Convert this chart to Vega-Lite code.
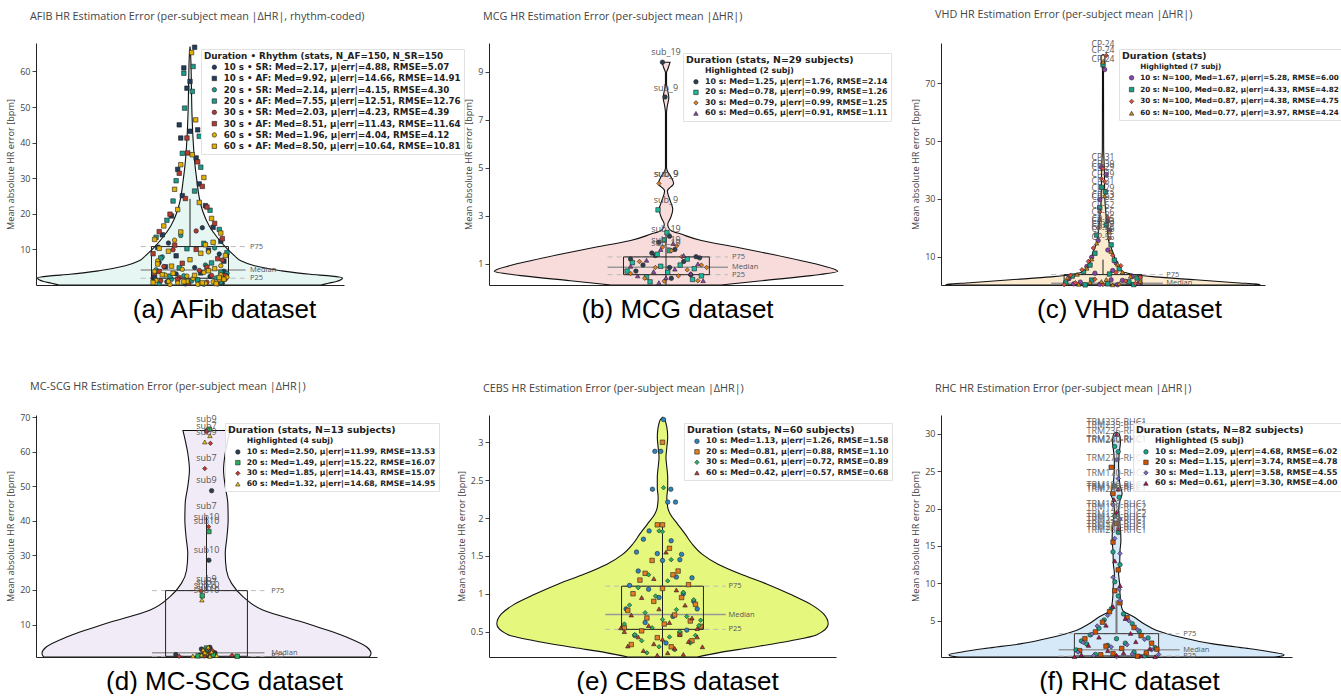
{
"$schema":"https://vega.github.io/schema/vega-lite/v6.json",
"padding":{"left":6,"top":8,"right":0,"bottom":0},
"columns":5,
"spacing":{"row":130,"column":5},
"bounds":"flush",
"resolve":{"scale":{"x":"independent","y":"independent","color":"independent","shape":"independent"}},
"config":{
 "view":{"stroke":null},
 "axis":{"grid":false,"domainColor":"#222","domainWidth":1,"tickColor":"#444","tickSize":4,"labelColor":"#444","labelFont":"Open Sans","labelFontSize":9,"labelPadding":2,"labelOverlap":false,"titleFont":"Open Sans","titleFontSize":9.2,"titleFontWeight":"normal","titleColor":"#444","titlePadding":4},
 "title":{"anchor":"start","frame":"group","dx":-6,"font":"Open Sans","fontSize":10.8,"fontWeight":"normal","color":"#444","offset":21},
 "legend":{"titleFont":"DejaVu Sans","titleFontSize":9.4,"titleFontWeight":"bold","titleColor":"#222","labelFont":"DejaVu Sans","labelFontSize":7.9,"labelFontWeight":"bold","labelColor":"#222","symbolSize":20,"symbolStrokeWidth":0.6,"symbolStrokeColor":"#222","rowPadding":1.5,"padding":3,"fillColor":"rgba(255,255,255,0.85)","strokeColor":"#e2e2e2","labelLimit":0,"titleLimit":0,"symbolOffset":6,"labelOffset":5,"titlePadding":2},
 "text":{"font":"Open Sans"}
},
"concat":[
{
 "width":308,"height":242,
 "title":{"text":"AFIB HR Estimation Error (per-subject mean |ΔHR|, rhythm-coded)"},
 "layer":[
  {"data":{"values":[{"y":0,"lo":-0.85,"hi":0.85},{"y":0.5,"lo":-0.9,"hi":0.9},{"y":1,"lo":-0.95,"hi":0.95},{"y":1.5,"lo":-0.98,"hi":0.98},{"y":2,"lo":-0.99,"hi":0.99},{"y":2.5,"lo":-0.92,"hi":0.92},{"y":3,"lo":-0.78,"hi":0.78},{"y":4,"lo":-0.59,"hi":0.59},{"y":5.4,"lo":-0.42,"hi":0.42},{"y":6.8,"lo":-0.33,"hi":0.33},{"y":8.2,"lo":-0.29,"hi":0.29},{"y":10,"lo":-0.245,"hi":0.245},{"y":13.2,"lo":-0.18,"hi":0.18},{"y":16.6,"lo":-0.125,"hi":0.125},{"y":20.8,"lo":-0.082,"hi":0.082},{"y":24.6,"lo":-0.06,"hi":0.06},{"y":29.2,"lo":-0.045,"hi":0.045},{"y":33.9,"lo":-0.032,"hi":0.032},{"y":39.5,"lo":-0.022,"hi":0.022},{"y":47.9,"lo":-0.013,"hi":0.013},{"y":56.3,"lo":-0.009,"hi":0.009},{"y":63.8,"lo":-0.005,"hi":0.005},{"y":67,"lo":0,"hi":0}]},
   "mark":{"type":"area","orient":"horizontal","interpolate":"monotone","fill":"#e6f6f3","stroke":"#111","strokeWidth":1.1,"clip":true},
   "encoding":{
    "y":{"field":"y","type":"quantitative","scale":{"domain":[0,68],"nice":false,"zero":false},"axis":{"title":"Mean absolute HR error [bpm]","values":[10,20,30,40,50,60]}},
    "x":{"field":"lo","type":"quantitative","stack":null,"scale":{"domain":[-1,1],"nice":false,"zero":false},"axis":{"title":"(a) AFib dataset","ticks":false,"labels":false,"titleFont":"Liberation Sans","titleFontSize":26,"titleFontWeight":"normal","titleColor":"#000","titleX":188,"titleY":32,"titleAlign":"center","titleBaseline":"alphabetic"}},
    "x2":{"field":"hi"}}},
  {"data":{"values":[{"x":-0.32,"x2":0.36,"y":10.8},{"x":-0.32,"x2":0.36,"y":1.9}]},"mark":{"type":"rule","stroke":"#bbb","strokeDash":[5,4],"strokeWidth":1},"encoding":{"y":{"field":"y","type":"quantitative"},"x":{"field":"x","type":"quantitative"},"x2":{"field":"x2"}}},
  {"data":{"values":[{"x":-0.32,"x2":0.36,"y":4.2}]},"mark":{"type":"rule","stroke":"#999","strokeWidth":1.5},"encoding":{"y":{"field":"y","type":"quantitative"},"x":{"field":"x","type":"quantitative"},"x2":{"field":"x2"}}},
  {"data":{"values":[{"x":-0.25,"x2":0.25,"y":1.9,"y2":10.8}]},"mark":{"type":"rect","fill":"transparent","stroke":"#222","strokeWidth":1},"encoding":{"x":{"field":"x","type":"quantitative"},"x2":{"field":"x2"},"y":{"field":"y","type":"quantitative"},"y2":{"field":"y2"}}},
  {"data":{"values":[{"x":0,"y":10.8,"y2":24.2},{"x":0,"y":0,"y2":1.9}]},"mark":{"type":"rule","stroke":"#222","strokeWidth":1},"encoding":{"x":{"field":"x","type":"quantitative"},"y":{"field":"y","type":"quantitative"},"y2":{"field":"y2"}}},
  {"data":{"values":[{"x":0.39,"y":10.8,"t":"P75"},{"x":0.39,"y":4.2,"t":"Median"},{"x":0.39,"y":1.9,"t":"P25"}]},"mark":{"type":"text","align":"left","baseline":"middle","fontSize":7.5,"fill":"#555"},"encoding":{"x":{"field":"x","type":"quantitative"},"y":{"field":"y","type":"quantitative"},"text":{"field":"t"}}},
  {"data":{"values":[
{"k":"s10","x":0.08,"y":16.1},{"k":"s10","x":-0.14,"y":11.8},{"k":"s10","x":0.19,"y":8.7},{"k":"s10","x":-0.2,"y":6.3},{"k":"s10","x":0.03,"y":4.9},{"k":"s10","x":0.22,"y":3.9},{"k":"s10","x":-0.09,"y":3.1},{"k":"s10","x":0.13,"y":2.4},{"k":"s10","x":-0.24,"y":1.9},{"k":"s10","x":0.05,"y":1.4},{"k":"s10","x":-0.15,"y":0.9},{"k":"s10","x":0.21,"y":0.5},{"k":"s10","x":-0.03,"y":0.3},
{"k":"a10","x":0.03,"y":66.8},{"k":"a10","x":-0.04,"y":61.0},{"k":"a10","x":0.0,"y":57.2},{"k":"a10","x":-0.02,"y":55.3},{"k":"a10","x":-0.07,"y":45.0},{"k":"a10","x":0.05,"y":43.6},{"k":"a10","x":0.0,"y":43.2},{"k":"a10","x":-0.06,"y":41.3},{"k":"a10","x":0.04,"y":35.7},{"k":"a10","x":-0.08,"y":32.5},{"k":"a10","x":0.06,"y":28.4},{"k":"a10","x":-0.05,"y":25.1},{"k":"a10","x":0.1,"y":22.3},{"k":"a10","x":-0.12,"y":19.4},{"k":"a10","x":0.15,"y":16.2},{"k":"a10","x":-0.18,"y":14.1},{"k":"a10","x":0.2,"y":12.3},{"k":"a10","x":-0.21,"y":10.6},{"k":"a10","x":0.12,"y":9.8},{"k":"a10","x":-0.09,"y":8.2},{"k":"a10","x":0.22,"y":6.7},{"k":"a10","x":-0.16,"y":5.1},{"k":"a10","x":0.07,"y":3.4},{"k":"a10","x":-0.23,"y":2.2},
{"k":"s20","x":-0.06,"y":13.9},{"k":"s20","x":0.16,"y":10.4},{"k":"s20","x":-0.18,"y":7.9},{"k":"s20","x":0.1,"y":5.6},{"k":"s20","x":-0.22,"y":4.3},{"k":"s20","x":0.24,"y":3.3},{"k":"s20","x":-0.04,"y":2.6},{"k":"s20","x":0.17,"y":2.0},{"k":"s20","x":-0.12,"y":1.6},{"k":"s20","x":0.01,"y":1.1},{"k":"s20","x":0.2,"y":0.7},{"k":"s20","x":-0.2,"y":0.4},{"k":"s20","x":0.09,"y":0.2},
{"k":"a20","x":0.02,"y":61.4},{"k":"a20","x":-0.04,"y":59.5},{"k":"a20","x":0.015,"y":54.4},{"k":"a20","x":-0.035,"y":49.7},{"k":"a20","x":0.06,"y":41.8},{"k":"a20","x":-0.05,"y":37.0},{"k":"a20","x":0.07,"y":33.1},{"k":"a20","x":-0.09,"y":29.3},{"k":"a20","x":0.03,"y":26.4},{"k":"a20","x":-0.11,"y":23.6},{"k":"a20","x":0.13,"y":21.0},{"k":"a20","x":-0.15,"y":18.2},{"k":"a20","x":0.19,"y":15.6},{"k":"a20","x":-0.22,"y":13.4},{"k":"a20","x":0.09,"y":11.7},{"k":"a20","x":-0.02,"y":10.2},{"k":"a20","x":0.24,"y":9.1},{"k":"a20","x":-0.19,"y":7.6},{"k":"a20","x":0.14,"y":6.2},{"k":"a20","x":-0.07,"y":4.8},{"k":"a20","x":0.2,"y":3.6},{"k":"a20","x":-0.13,"y":2.5},{"k":"a20","x":0.05,"y":1.4},
{"k":"s30","x":0.04,"y":15.2},{"k":"s30","x":-0.11,"y":9.9},{"k":"s30","x":0.21,"y":7.0},{"k":"s30","x":-0.17,"y":5.2},{"k":"s30","x":0.06,"y":4.1},{"k":"s30","x":-0.23,"y":3.2},{"k":"s30","x":0.14,"y":2.7},{"k":"s30","x":-0.07,"y":2.1},{"k":"s30","x":0.23,"y":1.7},{"k":"s30","x":-0.19,"y":1.2},{"k":"s30","x":0.11,"y":0.8},{"k":"s30","x":-0.01,"y":0.5},{"k":"s30","x":0.18,"y":0.3},
{"k":"a30","x":-0.02,"y":41.3},{"k":"a30","x":-0.015,"y":37.1},{"k":"a30","x":0.05,"y":34.6},{"k":"a30","x":-0.07,"y":31.4},{"k":"a30","x":0.08,"y":27.7},{"k":"a30","x":-0.03,"y":24.3},{"k":"a30","x":0.11,"y":21.9},{"k":"a30","x":-0.13,"y":19.9},{"k":"a30","x":0.16,"y":17.3},{"k":"a30","x":-0.2,"y":15.0},{"k":"a30","x":0.21,"y":13.0},{"k":"a30","x":-0.1,"y":11.2},{"k":"a30","x":0.04,"y":10.0},{"k":"a30","x":-0.24,"y":8.8},{"k":"a30","x":0.18,"y":7.4},{"k":"a30","x":-0.05,"y":6.1},{"k":"a30","x":0.11,"y":5.0},{"k":"a30","x":-0.2,"y":3.8},{"k":"a30","x":0.23,"y":2.6},{"k":"a30","x":-0.08,"y":1.5},
{"k":"s60","x":-0.1,"y":12.6},{"k":"s60","x":0.12,"y":9.3},{"k":"s60","x":-0.21,"y":6.8},{"k":"s60","x":0.2,"y":5.4},{"k":"s60","x":-0.05,"y":4.4},{"k":"s60","x":0.09,"y":3.5},{"k":"s60","x":-0.16,"y":2.8},{"k":"s60","x":0.24,"y":2.2},{"k":"s60","x":0.02,"y":1.8},{"k":"s60","x":-0.22,"y":1.3},{"k":"s60","x":0.15,"y":0.9},{"k":"s60","x":-0.08,"y":0.6},{"k":"s60","x":0.06,"y":0.3},{"k":"s60","x":-0.13,"y":0.15},{"k":"s60","x":0.19,"y":1.5},{"k":"s60","x":-0.02,"y":2.5},{"k":"s60","x":0.1,"y":0.5},{"k":"s60","x":-0.14,"y":1.0},{"k":"s60","x":0.2,"y":2.9},{"k":"s60","x":-0.23,"y":3.8},{"k":"s60","x":0.05,"y":0.2},
{"k":"a60","x":0.01,"y":65.3},{"k":"a60","x":0.037,"y":46.4},{"k":"a60","x":0.015,"y":36.6},{"k":"a60","x":-0.06,"y":33.8},{"k":"a60","x":0.09,"y":30.2},{"k":"a60","x":-0.1,"y":26.9},{"k":"a60","x":0.06,"y":23.2},{"k":"a60","x":-0.08,"y":21.2},{"k":"a60","x":0.14,"y":18.7},{"k":"a60","x":-0.17,"y":16.6},{"k":"a60","x":0.2,"y":14.6},{"k":"a60","x":-0.23,"y":12.8},{"k":"a60","x":0.1,"y":11.3},{"k":"a60","x":-0.14,"y":9.5},{"k":"a60","x":0.23,"y":8.3},{"k":"a60","x":0.0,"y":7.1},{"k":"a60","x":-0.21,"y":5.9},{"k":"a60","x":0.16,"y":4.6},{"k":"a60","x":-0.11,"y":3.3},{"k":"a60","x":0.19,"y":2.1},{"k":"a60","x":-0.02,"y":1.0},{"k":"a60","x":0.08,"y":0.6},{"k":"a60","x":0.12,"y":4.0},{"k":"a60","x":-0.18,"y":2.9},{"k":"a60","x":0.22,"y":1.6},{"k":"a60","x":-0.04,"y":0.9},{"k":"a60","x":0.17,"y":0.4},{"k":"a60","x":-0.24,"y":0.7},{"k":"a60","x":0.03,"y":2.7},{"k":"a60","x":-0.12,"y":5.3},{"k":"a60","x":0.07,"y":8.9},{"k":"a60","x":-0.2,"y":10.3},{"k":"a60","x":0.15,"y":12.0},{"k":"a60","x":-0.06,"y":14.9}
  ]},
   "mark":{"type":"point","filled":true,"size":20,"stroke":"#222","strokeWidth":0.6,"opacity":1},
   "encoding":{"x":{"field":"x","type":"quantitative"},"y":{"field":"y","type":"quantitative"},
    "color":{"field":"k","type":"nominal","scale":{"domain":["s10","a10","s20","a20","s30","a30","s60","a60"],"range":["#1f3d5c","#1f3d5c","#1a9c8c","#1a9c8c","#b83a2e","#b83a2e","#e3b000","#e3b000"]},"legend":{"title":"Duration • Rhythm (stats, N_AF=150, N_SR=150","orient":"none","legendX":165,"legendY":6,"titleFontSize":8.8,"labelFontSize":8.7,"rowPadding":1.3,"labelExpr":"{s10:'10 s • SR: Med=2.17, μ|err|=4.88, RMSE=5.07',a10:'10 s • AF: Med=9.92, μ|err|=14.66, RMSE=14.91',s20:'20 s • SR: Med=2.14, μ|err|=4.15, RMSE=4.30',a20:'20 s • AF: Med=7.55, μ|err|=12.51, RMSE=12.76',s30:'30 s • SR: Med=2.03, μ|err|=4.23, RMSE=4.39',a30:'30 s • AF: Med=8.51, μ|err|=11.43, RMSE=11.64',s60:'60 s • SR: Med=1.96, μ|err|=4.04, RMSE=4.12',a60:'60 s • AF: Med=8.50, μ|err|=10.64, RMSE=10.81'}[datum.label]"}},
    "shape":{"field":"k","type":"nominal","scale":{"domain":["s10","a10","s20","a20","s30","a30","s60","a60"],"range":["circle","square","circle","square","circle","square","circle","square"]},"legend":{"title":"Duration • Rhythm (stats, N_AF=150, N_SR=150","orient":"none","legendX":165,"legendY":6,"titleFontSize":8.8,"labelFontSize":8.7,"rowPadding":1.3,"labelExpr":"{s10:'10 s • SR: Med=2.17, μ|err|=4.88, RMSE=5.07',a10:'10 s • AF: Med=9.92, μ|err|=14.66, RMSE=14.91',s20:'20 s • SR: Med=2.14, μ|err|=4.15, RMSE=4.30',a20:'20 s • AF: Med=7.55, μ|err|=12.51, RMSE=12.76',s30:'30 s • SR: Med=2.03, μ|err|=4.23, RMSE=4.39',a30:'30 s • AF: Med=8.51, μ|err|=11.43, RMSE=11.64',s60:'60 s • SR: Med=1.96, μ|err|=4.04, RMSE=4.12',a60:'60 s • AF: Med=8.50, μ|err|=10.64, RMSE=10.81'}[datum.label]"}}}}
 ]
},
{"width":102,"height":242,"data":{"values":[{"v":0}]},"mark":{"type":"point","opacity":0},"encoding":{}},
{
 "width":354,"height":242,
 "title":{"text":"MCG HR Estimation Error (per-subject mean |ΔHR|)"},
 "layer":[
  {"data":{"values":[{"y":0.12,"lo":-0.31,"hi":0.31},{"y":0.3,"lo":-0.54,"hi":0.54},{"y":0.51,"lo":-0.82,"hi":0.82},{"y":0.69,"lo":-0.97,"hi":0.97},{"y":0.93,"lo":-0.88,"hi":0.88},{"y":1.14,"lo":-0.76,"hi":0.76},{"y":1.41,"lo":-0.59,"hi":0.59},{"y":1.69,"lo":-0.4,"hi":0.4},{"y":1.97,"lo":-0.2,"hi":0.2},{"y":2.24,"lo":-0.085,"hi":0.085},{"y":2.38,"lo":-0.03,"hi":0.03},{"y":2.55,"lo":-0.012,"hi":0.012},{"y":2.66,"lo":-0.01,"hi":0.01},{"y":2.9,"lo":-0.025,"hi":0.025},{"y":3.28,"lo":-0.038,"hi":0.038},{"y":3.6,"lo":-0.025,"hi":0.025},{"y":4.04,"lo":-0.008,"hi":0.008},{"y":4.35,"lo":-0.043,"hi":0.043},{"y":4.6,"lo":-0.03,"hi":0.03},{"y":4.9,"lo":-0.006,"hi":0.006},{"y":5.0,"lo":-0.003,"hi":0.003},{"y":7.3,"lo":-0.003,"hi":0.003},{"y":7.6,"lo":-0.008,"hi":0.008},{"y":7.92,"lo":-0.016,"hi":0.016},{"y":8.2,"lo":-0.01,"hi":0.01},{"y":8.5,"lo":-0.003,"hi":0.003},{"y":8.96,"lo":-0.003,"hi":0.003},{"y":9.15,"lo":-0.012,"hi":0.012},{"y":9.4,"lo":-0.023,"hi":0.023}]},
   "mark":{"type":"area","orient":"horizontal","interpolate":"monotone","fill":"#f8dcdb","stroke":"#111","strokeWidth":1.1,"clip":true},
   "encoding":{
    "y":{"field":"y","type":"quantitative","scale":{"domain":[0.12,10.2],"nice":false,"zero":false},"axis":{"title":"Mean absolute HR error [bpm]","values":[1,2,3,4,5,6,7,8,9,10]}},
    "x":{"field":"lo","type":"quantitative","stack":null,"scale":{"domain":[-1,1],"nice":false,"zero":false},"axis":{"title":"(b) MCG dataset","ticks":false,"labels":false,"titleFont":"Liberation Sans","titleFontSize":26,"titleFontWeight":"normal","titleColor":"#000","titleX":188,"titleY":32,"titleAlign":"center","titleBaseline":"alphabetic"}},
    "x2":{"field":"hi"}}},
  {"data":{"values":[{"x":-0.33,"x2":0.35,"y":1.29},{"x":-0.33,"x2":0.35,"y":0.55}]},"mark":{"type":"rule","stroke":"#bbb","strokeDash":[5,4],"strokeWidth":1},"encoding":{"y":{"field":"y","type":"quantitative"},"x":{"field":"x","type":"quantitative"},"x2":{"field":"x2"}}},
  {"data":{"values":[{"x":-0.33,"x2":0.35,"y":0.86}]},"mark":{"type":"rule","stroke":"#999","strokeWidth":1.5},"encoding":{"y":{"field":"y","type":"quantitative"},"x":{"field":"x","type":"quantitative"},"x2":{"field":"x2"}}},
  {"data":{"values":[{"x":-0.24,"x2":0.245,"y":0.55,"y2":1.29}]},"mark":{"type":"rect","fill":"transparent","stroke":"#222","strokeWidth":1},"encoding":{"x":{"field":"x","type":"quantitative"},"x2":{"field":"x2"},"y":{"field":"y","type":"quantitative"},"y2":{"field":"y2"}}},
  {"data":{"values":[{"x":0,"y":0.12,"y2":2.4}]},"mark":{"type":"rule","stroke":"#222","strokeWidth":1},"encoding":{"x":{"field":"x","type":"quantitative"},"y":{"field":"y","type":"quantitative"},"y2":{"field":"y2"}}},
  {"data":{"values":[{"x":0.373,"y":1.29,"t":"P75"},{"x":0.373,"y":0.86,"t":"Median"},{"x":0.373,"y":0.55,"t":"P25"}]},"mark":{"type":"text","align":"left","baseline":"middle","fontSize":7.5,"fill":"#555"},"encoding":{"x":{"field":"x","type":"quantitative"},"y":{"field":"y","type":"quantitative"},"text":{"field":"t"}}},
  {"data":{"values":[
{"k":"d10","x":-0.02,"y":9.4},{"k":"d10","x":-0.005,"y":7.95},{"k":"d10","x":0.02,"y":2.15},{"k":"d10","x":-0.04,"y":1.9},{"k":"d10","x":0.05,"y":1.6},{"k":"d10","x":-0.08,"y":1.45},{"k":"d10","x":0.17,"y":1.3},{"k":"d10","x":-0.2,"y":1.2},{"k":"d10","x":0.1,"y":1.1},{"k":"d10","x":-0.13,"y":0.95},{"k":"d10","x":0.02,"y":0.85},{"k":"d10","x":-0.17,"y":0.7},{"k":"d10","x":0.14,"y":0.55},{"k":"d10","x":0.03,"y":0.4},{"k":"d10","x":0.19,"y":1.25},{"k":"d10","x":-0.06,"y":1.35},
{"k":"d20","x":-0.045,"y":3.25},{"k":"d20","x":0.005,"y":2.3},{"k":"d20","x":-0.01,"y":2.0},{"k":"d20","x":0.02,"y":1.55},{"k":"d20","x":-0.05,"y":1.4},{"k":"d20","x":0.12,"y":1.2},{"k":"d20","x":-0.19,"y":1.05},{"k":"d20","x":0.08,"y":0.95},{"k":"d20","x":-0.03,"y":0.9},{"k":"d20","x":0.16,"y":0.8},{"k":"d20","x":-0.22,"y":0.7},{"k":"d20","x":0.01,"y":0.65},{"k":"d20","x":0.2,"y":0.5},{"k":"d20","x":-0.11,"y":0.45},{"k":"d20","x":0.15,"y":0.35},{"k":"d20","x":-0.09,"y":0.25},
{"k":"d30","x":-0.04,"y":4.35},{"k":"d30","x":0.06,"y":1.75},{"k":"d30","x":-0.02,"y":1.7},{"k":"d30","x":0.03,"y":1.55},{"k":"d30","x":0.09,"y":1.3},{"k":"d30","x":-0.15,"y":1.1},{"k":"d30","x":0.2,"y":0.95},{"k":"d30","x":-0.06,"y":0.85},{"k":"d30","x":0.12,"y":0.75},{"k":"d30","x":-0.2,"y":0.6},{"k":"d30","x":0.07,"y":0.5},{"k":"d30","x":-0.12,"y":0.4},{"k":"d30","x":0.18,"y":0.3},{"k":"d30","x":-0.01,"y":0.28},{"k":"d30","x":0.23,"y":0.85},
{"k":"d60","x":0.04,"y":1.85},{"k":"d60","x":-0.03,"y":1.6},{"k":"d60","x":0.1,"y":1.35},{"k":"d60","x":-0.11,"y":1.15},{"k":"d60","x":0.18,"y":1.0},{"k":"d60","x":-0.2,"y":0.9},{"k":"d60","x":0.05,"y":0.78},{"k":"d60","x":-0.07,"y":0.68},{"k":"d60","x":0.14,"y":0.6},{"k":"d60","x":-0.16,"y":0.5},{"k":"d60","x":0.0,"y":0.42},{"k":"d60","x":0.21,"y":0.3},{"k":"d60","x":-0.04,"y":0.22}
  ]},
   "mark":{"type":"point","filled":true,"size":20,"stroke":"#222","strokeWidth":0.6,"opacity":1},
   "encoding":{"x":{"field":"x","type":"quantitative"},"y":{"field":"y","type":"quantitative"},
    "color":{"field":"k","type":"nominal","scale":{"domain":["hl","d10","d20","d30","d60"],"range":["#ffffff","#2d3e50","#1abc9c","#e67e22","#8e44ad"]},"legend":{"title":"Duration (stats, N=29 subjects)","orient":"none","legendX":194,"legendY":10,"labelExpr":"{hl:'Highlighted (2 subj)',d10:'10 s: Med=1.25, μ|err|=1.76, RMSE=2.14',d20:'20 s: Med=0.78, μ|err|=0.99, RMSE=1.26',d30:'30 s: Med=0.79, μ|err|=0.99, RMSE=1.25',d60:'60 s: Med=0.65, μ|err|=0.91, RMSE=1.11'}[datum.label]"}},
    "shape":{"field":"k","type":"nominal","scale":{"domain":["hl","d10","d20","d30","d60"],"range":["M0,0","circle","square","diamond","triangle-up"]},"legend":{"title":"Duration (stats, N=29 subjects)","orient":"none","legendX":194,"legendY":10,"labelExpr":"{hl:'Highlighted (2 subj)',d10:'10 s: Med=1.25, μ|err|=1.76, RMSE=2.14',d20:'20 s: Med=0.78, μ|err|=0.99, RMSE=1.26',d30:'30 s: Med=0.79, μ|err|=0.99, RMSE=1.25',d60:'60 s: Med=0.65, μ|err|=0.91, RMSE=1.11'}[datum.label]"}}}},
  {"data":{"values":[{"x":0,"y":9.83,"t":"sub_19"},{"x":0,"y":8.34,"t":"sub_9"},{"x":0,"y":4.76,"t":"sub_9"},{"x":0.003,"y":4.74,"t":"sub_9"},{"x":0,"y":3.68,"t":"sub_9"},{"x":0,"y":2.45,"t":"sub_19"},{"x":0,"y":1.99,"t":"sub_19"},{"x":0,"y":1.86,"t":"sub_19"}]},"mark":{"type":"text","align":"center","baseline":"middle","fontSize":9,"fill":"#555"},"encoding":{"x":{"field":"x","type":"quantitative"},"y":{"field":"y","type":"quantitative"},"text":{"field":"t"}}}
 ]
},
{"width":88,"height":242,"data":{"values":[{"v":0}]},"mark":{"type":"point","opacity":0},"encoding":{}},
{
 "width":324,"height":242,
 "title":{"text":"VHD HR Estimation Error (per-subject mean |ΔHR|)"},
 "layer":[
  {"data":{"values":[{"y":0.2,"lo":-0.95,"hi":0.95},{"y":0.4,"lo":-0.97,"hi":0.97},{"y":1.0,"lo":-0.82,"hi":0.82},{"y":2.0,"lo":-0.57,"hi":0.57},{"y":3.0,"lo":-0.32,"hi":0.32},{"y":3.6,"lo":-0.22,"hi":0.22},{"y":4.2,"lo":-0.16,"hi":0.16},{"y":5.2,"lo":-0.11,"hi":0.11},{"y":7.5,"lo":-0.085,"hi":0.085},{"y":10.9,"lo":-0.065,"hi":0.065},{"y":13.2,"lo":-0.05,"hi":0.05},{"y":15.5,"lo":-0.035,"hi":0.035},{"y":17.8,"lo":-0.03,"hi":0.03},{"y":23.6,"lo":-0.02,"hi":0.02},{"y":29.4,"lo":-0.012,"hi":0.012},{"y":40.9,"lo":-0.008,"hi":0.008},{"y":47.8,"lo":-0.004,"hi":0.004},{"y":74.5,"lo":-0.003,"hi":0.003},{"y":75.4,"lo":-0.004,"hi":0.004},{"y":76.6,"lo":-0.008,"hi":0.008},{"y":78.5,"lo":-0.012,"hi":0.012},{"y":79.4,"lo":-0.012,"hi":0.012},{"y":80,"lo":0,"hi":0}]},
   "mark":{"type":"area","orient":"horizontal","interpolate":"monotone","fill":"#fdebd0","stroke":"#111","strokeWidth":1.1,"clip":true},
   "encoding":{
    "y":{"field":"y","type":"quantitative","scale":{"domain":[0.2,84],"nice":false,"zero":false},"axis":{"title":"Mean absolute HR error [bpm]","values":[10,20,30,40,50,60,70,80]}},
    "x":{"field":"lo","type":"quantitative","stack":null,"scale":{"domain":[-1,1],"nice":false,"zero":false},"axis":{"title":"(c) VHD dataset","ticks":false,"labels":false,"titleFont":"Liberation Sans","titleFontSize":26,"titleFontWeight":"normal","titleColor":"#000","titleX":188,"titleY":32,"titleAlign":"center","titleBaseline":"alphabetic"}},
    "x2":{"field":"hi"}}},
  {"data":{"values":[{"x":-0.32,"x2":0.37,"y":3.8}]},"mark":{"type":"rule","stroke":"#bbb","strokeDash":[5,4],"strokeWidth":1},"encoding":{"y":{"field":"y","type":"quantitative"},"x":{"field":"x","type":"quantitative"},"x2":{"field":"x2"}}},
  {"data":{"values":[{"x":-0.32,"x2":0.37,"y":0.8}]},"mark":{"type":"rule","stroke":"#999","strokeWidth":1.5},"encoding":{"y":{"field":"y","type":"quantitative"},"x":{"field":"x","type":"quantitative"},"x2":{"field":"x2"}}},
  {"data":{"values":[{"x":-0.24,"x2":0.24,"y":0.2,"y2":3.8}]},"mark":{"type":"rect","fill":"transparent","stroke":"#222","strokeWidth":1},"encoding":{"x":{"field":"x","type":"quantitative"},"x2":{"field":"x2"},"y":{"field":"y","type":"quantitative"},"y2":{"field":"y2"}}},
  {"data":{"values":[{"x":0,"y":3.8,"y2":9.0}]},"mark":{"type":"rule","stroke":"#222","strokeWidth":1},"encoding":{"x":{"field":"x","type":"quantitative"},"y":{"field":"y","type":"quantitative"},"y2":{"field":"y2"}}},
  {"data":{"values":[{"x":0.39,"y":3.8,"t":"P75"},{"x":0.39,"y":0.8,"t":"Median"}]},"mark":{"type":"text","align":"left","baseline":"middle","fontSize":7.5,"fill":"#555"},"encoding":{"x":{"field":"x","type":"quantitative"},"y":{"field":"y","type":"quantitative"},"text":{"field":"t"}}},
  {"data":{"values":[
{"k":"d10","x":0.01,"y":74.8},{"k":"d10","x":-0.01,"y":41},{"k":"d10","x":0.02,"y":38.5},{"k":"d10","x":-0.02,"y":29.8},{"k":"d10","x":0.03,"y":22.4},{"k":"d10","x":0.04,"y":19.2},{"k":"d10","x":-0.03,"y":15.6},{"k":"d10","x":0.03,"y":12.3},{"k":"d10","x":-0.07,"y":9.8},{"k":"d10","x":0.08,"y":7.9},{"k":"d10","x":-0.1,"y":6.6},{"k":"d10","x":0.06,"y":5.2},{"k":"d10","x":-0.05,"y":4.3},{"k":"d10","x":0.18,"y":3.1},{"k":"d10","x":-0.21,"y":2.4},{"k":"d10","x":0.12,"y":1.8},{"k":"d10","x":-0.14,"y":1.2},{"k":"d10","x":0.22,"y":0.8},{"k":"d10","x":-0.02,"y":0.5},{"k":"d10","x":0.09,"y":0.3},{"k":"d10","x":-0.18,"y":0.6},{"k":"d10","x":0.05,"y":2.0},
{"k":"d20","x":0.0,"y":76.5},{"k":"d20","x":-0.01,"y":34.0},{"k":"d20","x":0.015,"y":32.5},{"k":"d20","x":-0.02,"y":27.0},{"k":"d20","x":0.02,"y":21.0},{"k":"d20","x":-0.04,"y":17.5},{"k":"d20","x":0.05,"y":14.1},{"k":"d20","x":-0.05,"y":11.2},{"k":"d20","x":0.07,"y":8.8},{"k":"d20","x":-0.08,"y":7.1},{"k":"d20","x":0.1,"y":5.8},{"k":"d20","x":-0.12,"y":4.9},{"k":"d20","x":0.04,"y":4.0},{"k":"d20","x":-0.19,"y":3.3},{"k":"d20","x":0.21,"y":2.6},{"k":"d20","x":-0.07,"y":1.9},{"k":"d20","x":0.16,"y":1.3},{"k":"d20","x":-0.23,"y":0.9},{"k":"d20","x":0.03,"y":0.6},{"k":"d20","x":0.19,"y":0.35},{"k":"d20","x":-0.11,"y":0.25},
{"k":"d30","x":0.02,"y":79.7},{"k":"d30","x":0.0,"y":40.5},{"k":"d30","x":-0.01,"y":37.0},{"k":"d30","x":0.01,"y":36.0},{"k":"d30","x":-0.02,"y":25.5},{"k":"d30","x":0.03,"y":23.5},{"k":"d30","x":-0.03,"y":20.0},{"k":"d30","x":0.04,"y":16.4},{"k":"d30","x":-0.06,"y":13.0},{"k":"d30","x":0.06,"y":10.5},{"k":"d30","x":-0.09,"y":8.4},{"k":"d30","x":0.11,"y":6.9},{"k":"d30","x":-0.13,"y":5.5},{"k":"d30","x":0.08,"y":4.5},{"k":"d30","x":-0.2,"y":3.6},{"k":"d30","x":0.23,"y":2.9},{"k":"d30","x":-0.05,"y":2.2},{"k":"d30","x":0.14,"y":1.6},{"k":"d30","x":-0.17,"y":1.0},{"k":"d30","x":0.2,"y":0.7},{"k":"d30","x":0.0,"y":0.4},{"k":"d30","x":-0.24,"y":0.3},
{"k":"d60","x":0.0,"y":77.4},{"k":"d60","x":0.01,"y":31.0},{"k":"d60","x":-0.02,"y":22.8},{"k":"d60","x":0.04,"y":18.5},{"k":"d60","x":-0.04,"y":14.7},{"k":"d60","x":0.05,"y":11.8},{"k":"d60","x":-0.07,"y":9.2},{"k":"d60","x":0.09,"y":7.4},{"k":"d60","x":-0.1,"y":6.0},{"k":"d60","x":0.12,"y":4.7},{"k":"d60","x":-0.16,"y":3.9},{"k":"d60","x":0.17,"y":3.2},{"k":"d60","x":-0.22,"y":2.7},{"k":"d60","x":0.02,"y":2.1},{"k":"d60","x":0.23,"y":1.5},{"k":"d60","x":-0.08,"y":1.1},{"k":"d60","x":0.1,"y":0.7},{"k":"d60","x":-0.15,"y":0.45},{"k":"d60","x":0.06,"y":0.25},{"k":"d60","x":-0.01,"y":1.4}
  ]},
   "mark":{"type":"point","filled":true,"size":20,"stroke":"#222","strokeWidth":0.6,"opacity":1},
   "encoding":{"x":{"field":"x","type":"quantitative"},"y":{"field":"y","type":"quantitative"},
    "color":{"field":"k","type":"nominal","scale":{"domain":["hl","d10","d20","d30","d60"],"range":["#ffffff","#8e44ad","#16a085","#e74c3c","#d68910"]},"legend":{"title":"Duration (stats)","orient":"none","legendX":178,"legendY":6,"labelFontSize":7.2,"rowPadding":2.8,"labelExpr":"{hl:'Highlighted (7 subj)',d10:'10 s: N=100, Med=1.67, μ|err|=5.28, RMSE=6.00',d20:'20 s: N=100, Med=0.82, μ|err|=4.33, RMSE=4.82',d30:'30 s: N=100, Med=0.87, μ|err|=4.38, RMSE=4.75',d60:'60 s: N=100, Med=0.77, μ|err|=3.97, RMSE=4.24'}[datum.label]"}},
    "shape":{"field":"k","type":"nominal","scale":{"domain":["hl","d10","d20","d30","d60"],"range":["M0,0","circle","square","diamond","triangle-up"]},"legend":{"title":"Duration (stats)","orient":"none","legendX":178,"legendY":6,"labelFontSize":7.2,"rowPadding":2.8,"labelExpr":"{hl:'Highlighted (7 subj)',d10:'10 s: N=100, Med=1.67, μ|err|=5.28, RMSE=6.00',d20:'20 s: N=100, Med=0.82, μ|err|=4.33, RMSE=4.82',d30:'30 s: N=100, Med=0.87, μ|err|=4.38, RMSE=4.75',d60:'60 s: N=100, Med=0.77, μ|err|=3.97, RMSE=4.24'}[datum.label]"}}}},
  {"data":{"values":[{"x":0,"y":83.5,"t":"CP-24"},{"x":0,"y":81.5,"t":"CP-24"},{"x":0,"y":78.3,"t":"CP-24"},{"x":0,"y":44.6,"t":"CP-31"},{"x":0,"y":42.1,"t":"CP-39"},{"x":0,"y":41.2,"t":"CP-29"},{"x":0,"y":38.8,"t":"CP-29"},{"x":0,"y":36.3,"t":"CP-31"},{"x":0,"y":33.8,"t":"CP-29"},{"x":0,"y":31.4,"t":"CP-53"},{"x":0,"y":30.5,"t":"CP-52"},{"x":0,"y":27.9,"t":"CP-52"},{"x":0,"y":25.4,"t":"CP-56"},{"x":0,"y":23.0,"t":"CP-55"},{"x":0,"y":22.2,"t":"CP-53"},{"x":0,"y":21.3,"t":"CP-39"},{"x":0,"y":20.4,"t":"CP-36"},{"x":0,"y":19.5,"t":"CP-56"},{"x":0,"y":16.9,"t":"CP-56"}]},"mark":{"type":"text","align":"center","baseline":"middle","fontSize":8.5,"fill":"#555"},"encoding":{"x":{"field":"x","type":"quantitative"},"y":{"field":"y","type":"quantitative"},"text":{"field":"t"}}}
 ]
},
{
 "width":341,"height":242,
 "title":{"text":"MC-SCG HR Estimation Error (per-subject mean |ΔHR|)"},
 "layer":[
  {"data":{"values":[{"y":0.6,"lo":-0.955,"hi":0.955},{"y":1.6,"lo":-0.965,"hi":0.965},{"y":3.5,"lo":-0.94,"hi":0.94},{"y":6.4,"lo":-0.82,"hi":0.82},{"y":10.3,"lo":-0.59,"hi":0.59},{"y":14.2,"lo":-0.33,"hi":0.33},{"y":18.0,"lo":-0.215,"hi":0.215},{"y":21.9,"lo":-0.147,"hi":0.147},{"y":25.7,"lo":-0.117,"hi":0.117},{"y":30.5,"lo":-0.11,"hi":0.11},{"y":35.4,"lo":-0.12,"hi":0.12},{"y":40.2,"lo":-0.127,"hi":0.127},{"y":45.1,"lo":-0.125,"hi":0.125},{"y":49.9,"lo":-0.11,"hi":0.11},{"y":54.7,"lo":-0.1,"hi":0.1},{"y":59.6,"lo":-0.11,"hi":0.11},{"y":64.4,"lo":-0.13,"hi":0.13},{"y":66.1,"lo":-0.138,"hi":0.138}]},
   "mark":{"type":"area","orient":"horizontal","interpolate":"monotone","fill":"#f1ebf7","stroke":"#111","strokeWidth":1.1,"clip":true},
   "encoding":{
    "y":{"field":"y","type":"quantitative","scale":{"domain":[0.6,70.6],"nice":false,"zero":false},"axis":{"title":"Mean absolute HR error [bpm]","values":[10,20,30,40,50,60,70]}},
    "x":{"field":"lo","type":"quantitative","stack":null,"scale":{"domain":[-1,1],"nice":false,"zero":false},"axis":{"title":"(d) MC-SCG dataset","ticks":false,"labels":false,"titleFont":"Liberation Sans","titleFontSize":26,"titleFontWeight":"normal","titleColor":"#000","titleX":188,"titleY":32,"titleAlign":"center","titleBaseline":"alphabetic"}},
    "x2":{"field":"hi"}}},
  {"data":{"values":[{"x":-0.32,"x2":0.34,"y":19.8},{"x":-0.32,"x2":0.34,"y":0.8}]},"mark":{"type":"rule","stroke":"#bbb","strokeDash":[5,4],"strokeWidth":1},"encoding":{"y":{"field":"y","type":"quantitative"},"x":{"field":"x","type":"quantitative"},"x2":{"field":"x2"}}},
  {"data":{"values":[{"x":-0.32,"x2":0.34,"y":1.8}]},"mark":{"type":"rule","stroke":"#999","strokeWidth":1.5},"encoding":{"y":{"field":"y","type":"quantitative"},"x":{"field":"x","type":"quantitative"},"x2":{"field":"x2"}}},
  {"data":{"values":[{"x":-0.24,"x2":0.24,"y":0.8,"y2":19.8}]},"mark":{"type":"rect","fill":"transparent","stroke":"#222","strokeWidth":1},"encoding":{"x":{"field":"x","type":"quantitative"},"x2":{"field":"x2"},"y":{"field":"y","type":"quantitative"},"y2":{"field":"y2"}}},
  {"data":{"values":[{"x":0,"y":19.8,"y2":41.2}]},"mark":{"type":"rule","stroke":"#222","strokeWidth":1},"encoding":{"x":{"field":"x","type":"quantitative"},"y":{"field":"y","type":"quantitative"},"y2":{"field":"y2"}}},
  {"data":{"values":[{"x":0.38,"y":19.8,"t":"P75"},{"x":0.38,"y":1.9,"t":"Median"},{"x":0.38,"y":0.75,"t":"P25"}]},"mark":{"type":"text","align":"left","baseline":"middle","fontSize":7.5,"fill":"#555"},"encoding":{"x":{"field":"x","type":"quantitative"},"y":{"field":"y","type":"quantitative"},"text":{"field":"t"}}},
  {"data":{"values":[
{"k":"d10","x":0.03,"y":48.7},{"k":"d10","x":0.014,"y":28.6},{"k":"d10","x":0.0,"y":66.0},{"k":"d10","x":-0.18,"y":1.3},{"k":"d10","x":0.02,"y":3.4},{"k":"d10","x":-0.02,"y":2.6},{"k":"d10","x":0.03,"y":2.0},{"k":"d10","x":-0.01,"y":1.5},{"k":"d10","x":0.01,"y":1.2},{"k":"d10","x":-0.03,"y":2.9},{"k":"d10","x":0.015,"y":0.9},{"k":"d10","x":0.05,"y":1.8},{"k":"d10","x":-0.04,"y":1.1},
{"k":"d20","x":0.016,"y":66.5},{"k":"d20","x":0.014,"y":36.9},{"k":"d20","x":-0.025,"y":18.3},{"k":"d20","x":0.18,"y":0.8},{"k":"d20","x":0.0,"y":3.2},{"k":"d20","x":0.02,"y":2.4},{"k":"d20","x":-0.015,"y":1.9},{"k":"d20","x":0.025,"y":1.4},{"k":"d20","x":-0.02,"y":1.0},{"k":"d20","x":0.01,"y":2.8},{"k":"d20","x":-0.05,"y":0.9},{"k":"d20","x":0.04,"y":1.2},
{"k":"d30","x":0.0,"y":65.8},{"k":"d30","x":0.023,"y":62.4},{"k":"d30","x":-0.01,"y":55.1},{"k":"d30","x":0.012,"y":38.3},{"k":"d30","x":-0.03,"y":19.7},{"k":"d30","x":0.15,"y":1.1},{"k":"d30","x":-0.16,"y":0.8},{"k":"d30","x":0.01,"y":3.0},{"k":"d30","x":-0.02,"y":2.2},{"k":"d30","x":0.02,"y":1.7},{"k":"d30","x":0.0,"y":1.3},{"k":"d30","x":0.035,"y":2.5},{"k":"d30","x":-0.01,"y":0.9},
{"k":"d60","x":0.02,"y":64.6},{"k":"d60","x":-0.01,"y":62.8},{"k":"d60","x":-0.027,"y":17.1},{"k":"d60","x":0.01,"y":3.5},{"k":"d60","x":-0.02,"y":2.7},{"k":"d60","x":0.03,"y":2.1},{"k":"d60","x":0.0,"y":1.6},{"k":"d60","x":-0.03,"y":1.2},{"k":"d60","x":0.02,"y":0.8},{"k":"d60","x":-0.08,"y":0.9},{"k":"d60","x":0.06,"y":1.0},{"k":"d60","x":-0.01,"y":1.9}
  ]},
   "mark":{"type":"point","filled":true,"size":20,"stroke":"#222","strokeWidth":0.6,"opacity":1},
   "encoding":{"x":{"field":"x","type":"quantitative"},"y":{"field":"y","type":"quantitative"},
    "color":{"field":"k","type":"nominal","scale":{"domain":["hl","d10","d20","d30","d60"],"range":["#ffffff","#2c3e50","#27ae60","#c0392b","#f1c40f"]},"legend":{"title":"Duration (stats, N=13 subjects)","orient":"none","legendX":189,"legendY":8,"labelFontSize":7.7,"rowPadding":1.7,"labelExpr":"{hl:'Highlighted (4 subj)',d10:'10 s: Med=2.50, μ|err|=11.99, RMSE=13.53',d20:'20 s: Med=1.49, μ|err|=15.22, RMSE=16.07',d30:'30 s: Med=1.85, μ|err|=14.43, RMSE=15.07',d60:'60 s: Med=1.32, μ|err|=14.68, RMSE=14.95'}[datum.label]"}},
    "shape":{"field":"k","type":"nominal","scale":{"domain":["hl","d10","d20","d30","d60"],"range":["M0,0","circle","square","diamond","triangle-up"]},"legend":{"title":"Duration (stats, N=13 subjects)","orient":"none","legendX":189,"legendY":8,"labelFontSize":7.7,"rowPadding":1.7,"labelExpr":"{hl:'Highlighted (4 subj)',d10:'10 s: Med=2.50, μ|err|=11.99, RMSE=13.53',d20:'20 s: Med=1.49, μ|err|=15.22, RMSE=16.07',d30:'30 s: Med=1.85, μ|err|=14.43, RMSE=15.07',d60:'60 s: Med=1.32, μ|err|=14.68, RMSE=14.95'}[datum.label]"}}}},
  {"data":{"values":[{"x":0,"y":69.4,"t":"sub9"},{"x":0,"y":67.5,"t":"sub7"},{"x":0,"y":65.7,"t":"sub9"},{"x":0,"y":58.1,"t":"sub7"},{"x":0,"y":51.8,"t":"sub9"},{"x":0,"y":44.4,"t":"sub7"},{"x":0,"y":41.2,"t":"sub10"},{"x":0,"y":40.0,"t":"sub10"},{"x":0,"y":31.6,"t":"sub10"},{"x":0,"y":23.1,"t":"sub9"},{"x":0,"y":22.3,"t":"sub7"},{"x":0,"y":21.4,"t":"sub10"},{"x":0,"y":20.6,"t":"sub9"},{"x":0,"y":19.95,"t":"sub10"}]},"mark":{"type":"text","align":"center","baseline":"middle","fontSize":9,"fill":"#555"},"encoding":{"x":{"field":"x","type":"quantitative"},"y":{"field":"y","type":"quantitative"},"text":{"field":"t"}}}
 ]
},
{"width":102,"height":242,"data":{"values":[{"v":0}]},"mark":{"type":"point","opacity":0},"encoding":{}},
{
 "width":347,"height":242,
 "title":{"text":"CEBS HR Estimation Error (per-subject mean |ΔHR|)"},
 "layer":[
  {"data":{"values":[{"y":0.165,"lo":-0.2,"hi":0.2},{"y":0.22,"lo":-0.32,"hi":0.32},{"y":0.29,"lo":-0.51,"hi":0.51},{"y":0.38,"lo":-0.74,"hi":0.74},{"y":0.46,"lo":-0.89,"hi":0.89},{"y":0.6,"lo":-0.955,"hi":0.955},{"y":0.73,"lo":-0.93,"hi":0.93},{"y":0.86,"lo":-0.855,"hi":0.855},{"y":0.99,"lo":-0.74,"hi":0.74},{"y":1.13,"lo":-0.6,"hi":0.6},{"y":1.26,"lo":-0.45,"hi":0.45},{"y":1.39,"lo":-0.32,"hi":0.32},{"y":1.52,"lo":-0.23,"hi":0.23},{"y":1.66,"lo":-0.17,"hi":0.17},{"y":1.79,"lo":-0.13,"hi":0.13},{"y":1.92,"lo":-0.087,"hi":0.087},{"y":2.05,"lo":-0.045,"hi":0.045},{"y":2.14,"lo":-0.03,"hi":0.03},{"y":2.27,"lo":-0.025,"hi":0.025},{"y":2.4,"lo":-0.03,"hi":0.03},{"y":2.54,"lo":-0.03,"hi":0.03},{"y":2.67,"lo":-0.025,"hi":0.025},{"y":2.8,"lo":-0.02,"hi":0.02},{"y":2.93,"lo":-0.025,"hi":0.025},{"y":3.07,"lo":-0.03,"hi":0.03},{"y":3.2,"lo":-0.025,"hi":0.025},{"y":3.3,"lo":-0.012,"hi":0.012},{"y":3.33,"lo":0,"hi":0}]},
   "mark":{"type":"area","orient":"horizontal","interpolate":"monotone","fill":"#e6f77e","stroke":"#111","strokeWidth":1.1,"clip":true},
   "encoding":{
    "y":{"field":"y","type":"quantitative","scale":{"domain":[0.165,3.36],"nice":false,"zero":false},"axis":{"title":"Mean absolute HR error [bpm]","values":[0.5,1,1.5,2,2.5,3],"format":"~g"}},
    "x":{"field":"lo","type":"quantitative","stack":null,"scale":{"domain":[-1,1],"nice":false,"zero":false},"axis":{"title":"(e) CEBS dataset","ticks":false,"labels":false,"titleFont":"Liberation Sans","titleFontSize":26,"titleFontWeight":"normal","titleColor":"#000","titleX":188,"titleY":32,"titleAlign":"center","titleBaseline":"alphabetic"}},
    "x2":{"field":"hi"}}},
  {"data":{"values":[{"x":-0.33,"x2":0.365,"y":1.1},{"x":-0.33,"x2":0.365,"y":0.53}]},"mark":{"type":"rule","stroke":"#bbb","strokeDash":[5,4],"strokeWidth":1},"encoding":{"y":{"field":"y","type":"quantitative"},"x":{"field":"x","type":"quantitative"},"x2":{"field":"x2"}}},
  {"data":{"values":[{"x":-0.33,"x2":0.365,"y":0.725}]},"mark":{"type":"rule","stroke":"#999","strokeWidth":1.5},"encoding":{"y":{"field":"y","type":"quantitative"},"x":{"field":"x","type":"quantitative"},"x2":{"field":"x2"}}},
  {"data":{"values":[{"x":-0.236,"x2":0.236,"y":0.53,"y2":1.1}]},"mark":{"type":"rect","fill":"transparent","stroke":"#222","strokeWidth":1},"encoding":{"x":{"field":"x","type":"quantitative"},"x2":{"field":"x2"},"y":{"field":"y","type":"quantitative"},"y2":{"field":"y2"}}},
  {"data":{"values":[{"x":0,"y":0.165,"y2":1.9}]},"mark":{"type":"rule","stroke":"#222","strokeWidth":1},"encoding":{"x":{"field":"x","type":"quantitative"},"y":{"field":"y","type":"quantitative"},"y2":{"field":"y2"}}},
  {"data":{"values":[{"x":0.38,"y":1.1,"t":"P75"},{"x":0.38,"y":0.725,"t":"Median"},{"x":0.38,"y":0.53,"t":"P25"}]},"mark":{"type":"text","align":"left","baseline":"middle","fontSize":7.5,"fill":"#555"},"encoding":{"x":{"field":"x","type":"quantitative"},"y":{"field":"y","type":"quantitative"},"text":{"field":"t"}}},
  {"data":{"values":[
{"k":"d10","x":0.006,"y":3.3},{"k":"d10","x":-0.044,"y":2.88},{"k":"d10","x":-0.01,"y":2.88},{"k":"d10","x":-0.058,"y":2.38},{"k":"d10","x":0.048,"y":2.38},{"k":"d10","x":0.03,"y":2.21},{"k":"d10","x":0.075,"y":2.21},{"k":"d10","x":-0.077,"y":1.83},{"k":"d10","x":-0.11,"y":1.72},{"k":"d10","x":0.05,"y":1.7},{"k":"d10","x":-0.15,"y":1.55},{"k":"d10","x":0.11,"y":1.52},{"k":"d10","x":-0.03,"y":1.53},{"k":"d10","x":0.0,"y":1.44},{"k":"d10","x":0.1,"y":1.45},{"k":"d10","x":-0.14,"y":1.3},{"k":"d10","x":0.08,"y":1.22},{"k":"d10","x":0.17,"y":1.21},{"k":"d10","x":-0.19,"y":1.11},{"k":"d10","x":-0.08,"y":1.06},{"k":"d10","x":0.12,"y":1.0},{"k":"d10","x":-0.02,"y":0.95},{"k":"d10","x":0.18,"y":0.9},{"k":"d10","x":-0.21,"y":0.8},{"k":"d10","x":0.2,"y":0.8},{"k":"d10","x":0.06,"y":0.7},{"k":"d10","x":-0.1,"y":0.62},{"k":"d10","x":0.14,"y":0.52},{"k":"d10","x":-0.16,"y":0.45},{"k":"d10","x":0.02,"y":0.35},
{"k":"d20","x":0.0,"y":3.0},{"k":"d20","x":-0.03,"y":1.91},{"k":"d20","x":0.0,"y":1.91},{"k":"d20","x":0.04,"y":1.6},{"k":"d20","x":-0.06,"y":1.44},{"k":"d20","x":0.09,"y":1.3},{"k":"d20","x":-0.1,"y":1.27},{"k":"d20","x":0.06,"y":1.25},{"k":"d20","x":-0.13,"y":1.18},{"k":"d20","x":0.15,"y":1.12},{"k":"d20","x":0.0,"y":1.07},{"k":"d20","x":-0.17,"y":1.0},{"k":"d20","x":0.11,"y":0.95},{"k":"d20","x":-0.05,"y":0.9},{"k":"d20","x":0.19,"y":0.86},{"k":"d20","x":-0.2,"y":0.78},{"k":"d20","x":0.07,"y":0.72},{"k":"d20","x":-0.09,"y":0.68},{"k":"d20","x":0.16,"y":0.64},{"k":"d20","x":-0.22,"y":0.55},{"k":"d20","x":0.01,"y":0.6},{"k":"d20","x":0.22,"y":0.57},{"k":"d20","x":-0.12,"y":0.51},{"k":"d20","x":0.1,"y":0.47},{"k":"d20","x":-0.03,"y":0.42},{"k":"d20","x":0.17,"y":0.38},{"k":"d20","x":-0.18,"y":0.33},{"k":"d20","x":0.05,"y":0.3},
{"k":"d30","x":0.006,"y":2.4},{"k":"d30","x":-0.02,"y":1.83},{"k":"d30","x":0.0,"y":1.82},{"k":"d30","x":0.05,"y":1.45},{"k":"d30","x":-0.08,"y":1.25},{"k":"d30","x":0.03,"y":1.17},{"k":"d30","x":-0.14,"y":1.08},{"k":"d30","x":0.12,"y":1.02},{"k":"d30","x":-0.04,"y":0.97},{"k":"d30","x":0.18,"y":0.92},{"k":"d30","x":-0.19,"y":0.85},{"k":"d30","x":0.08,"y":0.79},{"k":"d30","x":-0.1,"y":0.75},{"k":"d30","x":0.14,"y":0.7},{"k":"d30","x":0.0,"y":0.66},{"k":"d30","x":-0.22,"y":0.6},{"k":"d30","x":0.21,"y":0.58},{"k":"d30","x":-0.06,"y":0.55},{"k":"d30","x":0.1,"y":0.5},{"k":"d30","x":-0.16,"y":0.46},{"k":"d30","x":0.04,"y":0.43},{"k":"d30","x":-0.12,"y":0.38},{"k":"d30","x":0.16,"y":0.35},{"k":"d30","x":-0.02,"y":0.3},{"k":"d30","x":0.07,"y":0.26},{"k":"d30","x":-0.09,"y":0.22},{"k":"d30","x":0.19,"y":0.45},{"k":"d30","x":0.22,"y":0.65},
{"k":"d60","x":0.02,"y":1.55},{"k":"d60","x":-0.05,"y":1.2},{"k":"d60","x":0.08,"y":1.05},{"k":"d60","x":-0.12,"y":0.95},{"k":"d60","x":0.13,"y":0.85},{"k":"d60","x":-0.02,"y":0.8},{"k":"d60","x":-0.18,"y":0.72},{"k":"d60","x":0.17,"y":0.68},{"k":"d60","x":0.04,"y":0.62},{"k":"d60","x":-0.08,"y":0.58},{"k":"d60","x":0.2,"y":0.54},{"k":"d60","x":-0.22,"y":0.5},{"k":"d60","x":0.1,"y":0.46},{"k":"d60","x":-0.14,"y":0.43},{"k":"d60","x":0.0,"y":0.4},{"k":"d60","x":0.15,"y":0.37},{"k":"d60","x":-0.05,"y":0.34},{"k":"d60","x":-0.2,"y":0.31},{"k":"d60","x":0.23,"y":0.3},{"k":"d60","x":0.07,"y":0.28},{"k":"d60","x":-0.11,"y":0.25},{"k":"d60","x":0.03,"y":0.22},{"k":"d60","x":0.12,"y":0.2},{"k":"d60","x":-0.03,"y":0.19},{"k":"d60","x":0.2,"y":0.43},{"k":"d60","x":-0.24,"y":0.55}
  ]},
   "mark":{"type":"point","filled":true,"size":20,"stroke":"#222","strokeWidth":0.6,"opacity":1},
   "encoding":{"x":{"field":"x","type":"quantitative"},"y":{"field":"y","type":"quantitative"},
    "color":{"field":"k","type":"nominal","scale":{"domain":["d10","d20","d30","d60"],"range":["#2e86c1","#e67e22","#28b463","#c0392b"]},"legend":{"title":"Duration (stats, N=60 subjects)","orient":"none","legendX":195,"legendY":8,"labelExpr":"{d10:'10 s: Med=1.13, μ|err|=1.26, RMSE=1.58',d20:'20 s: Med=0.81, μ|err|=0.88, RMSE=1.10',d30:'30 s: Med=0.61, μ|err|=0.72, RMSE=0.89',d60:'60 s: Med=0.42, μ|err|=0.57, RMSE=0.68'}[datum.label]"}},
    "shape":{"field":"k","type":"nominal","scale":{"domain":["d10","d20","d30","d60"],"range":["circle","square","diamond","triangle-up"]},"legend":{"title":"Duration (stats, N=60 subjects)","orient":"none","legendX":195,"legendY":8,"labelExpr":"{d10:'10 s: Med=1.13, μ|err|=1.26, RMSE=1.58',d20:'20 s: Med=0.81, μ|err|=0.88, RMSE=1.10',d30:'30 s: Med=0.61, μ|err|=0.72, RMSE=0.89',d60:'60 s: Med=0.42, μ|err|=0.57, RMSE=0.68'}[datum.label]"}}}}
 ]
},
{"width":88,"height":242,"data":{"values":[{"v":0}]},"mark":{"type":"point","opacity":0},"encoding":{}},
{
 "width":351,"height":242,
 "title":{"text":"RHC HR Estimation Error (per-subject mean |ΔHR|)"},
 "layer":[
  {"data":{"values":[{"y":0.15,"lo":-0.9,"hi":0.9},{"y":0.24,"lo":-0.935,"hi":0.935},{"y":0.46,"lo":-0.955,"hi":0.955},{"y":0.82,"lo":-0.88,"hi":0.88},{"y":1.3,"lo":-0.745,"hi":0.745},{"y":1.9,"lo":-0.55,"hi":0.55},{"y":2.8,"lo":-0.365,"hi":0.365},{"y":3.7,"lo":-0.23,"hi":0.23},{"y":4.6,"lo":-0.156,"hi":0.156},{"y":5.5,"lo":-0.1,"hi":0.1},{"y":6.4,"lo":-0.035,"hi":0.035},{"y":7.3,"lo":-0.025,"hi":0.025},{"y":8.6,"lo":-0.02,"hi":0.02},{"y":9.9,"lo":-0.018,"hi":0.018},{"y":11.3,"lo":-0.012,"hi":0.012},{"y":12.6,"lo":-0.018,"hi":0.018},{"y":14.4,"lo":-0.02,"hi":0.02},{"y":15.7,"lo":-0.025,"hi":0.025},{"y":17.1,"lo":-0.023,"hi":0.023},{"y":18.4,"lo":-0.018,"hi":0.018},{"y":19.7,"lo":-0.012,"hi":0.012},{"y":21.1,"lo":-0.02,"hi":0.02},{"y":22.0,"lo":-0.032,"hi":0.032},{"y":23.1,"lo":-0.02,"hi":0.02},{"y":24.2,"lo":-0.015,"hi":0.015},{"y":25.9,"lo":-0.012,"hi":0.012},{"y":27.3,"lo":-0.015,"hi":0.015},{"y":29.1,"lo":-0.023,"hi":0.023},{"y":30.0,"lo":-0.015,"hi":0.015},{"y":30.2,"lo":0,"hi":0}]},
   "mark":{"type":"area","orient":"horizontal","interpolate":"monotone","fill":"#d6e9f8","stroke":"#111","strokeWidth":1.1,"clip":true},
   "encoding":{
    "y":{"field":"y","type":"quantitative","scale":{"domain":[0.15,32.5],"nice":false,"zero":false},"axis":{"title":"Mean absolute HR error [bpm]","values":[5,10,15,20,25,30]}},
    "x":{"field":"lo","type":"quantitative","stack":null,"scale":{"domain":[-1,1],"nice":false,"zero":false},"axis":{"title":"(f) RHC dataset","ticks":false,"labels":false,"titleFont":"Liberation Sans","titleFontSize":26,"titleFontWeight":"normal","titleColor":"#000","titleX":188,"titleY":32,"titleAlign":"center","titleBaseline":"alphabetic"}},
    "x2":{"field":"hi"}}},
  {"data":{"values":[{"x":-0.33,"x2":0.36,"y":3.27},{"x":-0.33,"x2":0.36,"y":0.29}]},"mark":{"type":"rule","stroke":"#bbb","strokeDash":[5,4],"strokeWidth":1},"encoding":{"y":{"field":"y","type":"quantitative"},"x":{"field":"x","type":"quantitative"},"x2":{"field":"x2"}}},
  {"data":{"values":[{"x":-0.33,"x2":0.36,"y":1.13}]},"mark":{"type":"rule","stroke":"#999","strokeWidth":1.5},"encoding":{"y":{"field":"y","type":"quantitative"},"x":{"field":"x","type":"quantitative"},"x2":{"field":"x2"}}},
  {"data":{"values":[{"x":-0.24,"x2":0.24,"y":0.29,"y2":3.27}]},"mark":{"type":"rect","fill":"transparent","stroke":"#333","strokeWidth":1},"encoding":{"x":{"field":"x","type":"quantitative"},"x2":{"field":"x2"},"y":{"field":"y","type":"quantitative"},"y2":{"field":"y2"}}},
  {"data":{"values":[{"x":0,"y":3.27,"y2":7.7}]},"mark":{"type":"rule","stroke":"#777","strokeWidth":2},"encoding":{"x":{"field":"x","type":"quantitative"},"y":{"field":"y","type":"quantitative"},"y2":{"field":"y2"}}},
  {"data":{"values":[{"x":0.38,"y":3.27,"t":"P75"},{"x":0.38,"y":1.13,"t":"Median"},{"x":0.38,"y":0.29,"t":"P25"}]},"mark":{"type":"text","align":"left","baseline":"middle","fontSize":7.5,"fill":"#555"},"encoding":{"x":{"field":"x","type":"quantitative"},"y":{"field":"y","type":"quantitative"},"text":{"field":"t"}}},
  {"data":{"values":[
{"k":"d10","x":-0.01,"y":28.3},{"k":"d10","x":0.01,"y":27.6},{"k":"d10","x":-0.01,"y":23.0},{"k":"d10","x":0.015,"y":21.5},{"k":"d10","x":-0.01,"y":19.0},{"k":"d10","x":0.01,"y":16.8},{"k":"d10","x":-0.02,"y":14.2},{"k":"d10","x":0.02,"y":12.5},{"k":"d10","x":-0.01,"y":10.2},{"k":"d10","x":0.01,"y":8.3},{"k":"d10","x":-0.03,"y":6.6},{"k":"d10","x":0.04,"y":5.9},{"k":"d10","x":-0.07,"y":5.1},{"k":"d10","x":0.09,"y":4.6},{"k":"d10","x":-0.1,"y":4.0},{"k":"d10","x":0.13,"y":3.6},{"k":"d10","x":-0.15,"y":3.1},{"k":"d10","x":0.18,"y":2.7},{"k":"d10","x":-0.2,"y":2.3},{"k":"d10","x":0.05,"y":2.0},{"k":"d10","x":-0.05,"y":1.7},{"k":"d10","x":0.22,"y":1.4},{"k":"d10","x":-0.23,"y":1.1},{"k":"d10","x":0.1,"y":0.8},{"k":"d10","x":-0.12,"y":0.5},{"k":"d10","x":0.16,"y":0.3},{"k":"d10","x":0.0,"y":2.6},{"k":"d10","x":-0.17,"y":1.9},
{"k":"d20","x":-0.03,"y":25.5},{"k":"d20","x":-0.02,"y":22.0},{"k":"d20","x":0.0,"y":18.0},{"k":"d20","x":-0.02,"y":15.5},{"k":"d20","x":0.01,"y":11.8},{"k":"d20","x":-0.01,"y":9.0},{"k":"d20","x":0.02,"y":7.4},{"k":"d20","x":-0.04,"y":6.2},{"k":"d20","x":0.06,"y":5.4},{"k":"d20","x":-0.08,"y":4.8},{"k":"d20","x":0.1,"y":4.1},{"k":"d20","x":-0.12,"y":3.5},{"k":"d20","x":0.14,"y":3.0},{"k":"d20","x":-0.18,"y":2.6},{"k":"d20","x":0.2,"y":2.0},{"k":"d20","x":-0.06,"y":1.6},{"k":"d20","x":0.03,"y":1.3},{"k":"d20","x":-0.21,"y":1.0},{"k":"d20","x":0.17,"y":0.7},{"k":"d20","x":-0.09,"y":0.45},{"k":"d20","x":0.12,"y":0.25},{"k":"d20","x":0.23,"y":1.2},{"k":"d20","x":-0.02,"y":0.6},
{"k":"d30","x":0.0,"y":26.5},{"k":"d30","x":0.01,"y":24.0},{"k":"d30","x":-0.02,"y":20.5},{"k":"d30","x":0.02,"y":18.6},{"k":"d30","x":-0.01,"y":16.0},{"k":"d30","x":0.02,"y":14.0},{"k":"d30","x":-0.02,"y":10.8},{"k":"d30","x":0.015,"y":9.2},{"k":"d30","x":0.02,"y":7.7},{"k":"d30","x":-0.05,"y":5.7},{"k":"d30","x":0.07,"y":5.0},{"k":"d30","x":-0.11,"y":4.3},{"k":"d30","x":0.12,"y":3.8},{"k":"d30","x":-0.14,"y":3.2},{"k":"d30","x":0.16,"y":2.5},{"k":"d30","x":-0.19,"y":2.1},{"k":"d30","x":0.06,"y":1.8},{"k":"d30","x":-0.03,"y":1.5},{"k":"d30","x":0.2,"y":1.1},{"k":"d30","x":-0.22,"y":0.8},{"k":"d30","x":0.09,"y":0.55},{"k":"d30","x":-0.13,"y":0.35},{"k":"d30","x":0.0,"y":0.2},{"k":"d30","x":0.24,"y":0.5},
{"k":"d60","x":0.0,"y":29.9},{"k":"d60","x":0.01,"y":22.6},{"k":"d60","x":-0.015,"y":21.2},{"k":"d60","x":0.0,"y":19.5},{"k":"d60","x":0.01,"y":17.3},{"k":"d60","x":-0.01,"y":13.0},{"k":"d60","x":0.02,"y":9.7},{"k":"d60","x":-0.02,"y":6.9},{"k":"d60","x":0.05,"y":5.3},{"k":"d60","x":-0.06,"y":4.4},{"k":"d60","x":0.08,"y":3.3},{"k":"d60","x":-0.1,"y":2.8},{"k":"d60","x":0.11,"y":2.2},{"k":"d60","x":-0.16,"y":1.7},{"k":"d60","x":0.19,"y":1.3},{"k":"d60","x":-0.05,"y":1.0},{"k":"d60","x":0.04,"y":0.7},{"k":"d60","x":-0.2,"y":0.45},{"k":"d60","x":0.14,"y":0.3},{"k":"d60","x":-0.24,"y":0.2},{"k":"d60","x":0.22,"y":0.2},{"k":"d60","x":0.0,"y":0.4}
  ]},
   "mark":{"type":"point","filled":true,"size":20,"stroke":"#222","strokeWidth":0.6,"opacity":1},
   "encoding":{"x":{"field":"x","type":"quantitative"},"y":{"field":"y","type":"quantitative"},
    "color":{"field":"k","type":"nominal","scale":{"domain":["hl","d10","d20","d30","d60"],"range":["#ffffff","#17a589","#d35400","#7d6bc9","#b0124f"]},"legend":{"title":"Duration (stats, N=82 subjects)","orient":"none","legendX":192,"legendY":8,"labelExpr":"{hl:'Highlighted (5 subj)',d10:'10 s: Med=2.09, μ|err|=4.68, RMSE=6.02',d20:'20 s: Med=1.15, μ|err|=3.74, RMSE=4.78',d30:'30 s: Med=1.13, μ|err|=3.58, RMSE=4.55',d60:'60 s: Med=0.61, μ|err|=3.30, RMSE=4.00'}[datum.label]"}},
    "shape":{"field":"k","type":"nominal","scale":{"domain":["hl","d10","d20","d30","d60"],"range":["M0,0","circle","square","diamond","triangle-up"]},"legend":{"title":"Duration (stats, N=82 subjects)","orient":"none","legendX":192,"legendY":8,"labelExpr":"{hl:'Highlighted (5 subj)',d10:'10 s: Med=2.09, μ|err|=4.68, RMSE=6.02',d20:'20 s: Med=1.15, μ|err|=3.74, RMSE=4.78',d30:'30 s: Med=1.13, μ|err|=3.58, RMSE=4.55',d60:'60 s: Med=0.61, μ|err|=3.30, RMSE=4.00'}[datum.label]"}}}},
  {"data":{"values":[{"x":0,"y":31.6,"t":"TRM235-RHC1"},{"x":0,"y":31.2,"t":"TRM235-RHC1"},{"x":0,"y":30.4,"t":"TRM236-RHC1"},{"x":0,"y":29.3,"t":"TRM240-RHC1"},{"x":0,"y":29.1,"t":"TRM240-RHC1"},{"x":0,"y":26.7,"t":"TRM275-RHC1"},{"x":0,"y":24.8,"t":"TRM170-RHC2"},{"x":0,"y":23.1,"t":"TRM180-RHC1"},{"x":0,"y":22.9,"t":"TRM180-RHC1"},{"x":0,"y":22.6,"t":"TRM260-RHC1"},{"x":0,"y":20.6,"t":"TRM160-RHC1"},{"x":0,"y":20.2,"t":"TRM170-RHC2"},{"x":0,"y":19.2,"t":"TRM133-RHC2"},{"x":0,"y":18.8,"t":"TRM134-RHC1"},{"x":0,"y":18.5,"t":"TRM238-RHC1"},{"x":0,"y":17.9,"t":"TRM270-RHC1"},{"x":0,"y":17.5,"t":"TRM262-RHC1"},{"x":0,"y":17.1,"t":"TRM260-RHC1"}]},"mark":{"type":"text","align":"center","baseline":"middle","fontSize":9,"fill":"#666"},"encoding":{"x":{"field":"x","type":"quantitative"},"y":{"field":"y","type":"quantitative"},"text":{"field":"t"}}}
 ]
}
]
}
